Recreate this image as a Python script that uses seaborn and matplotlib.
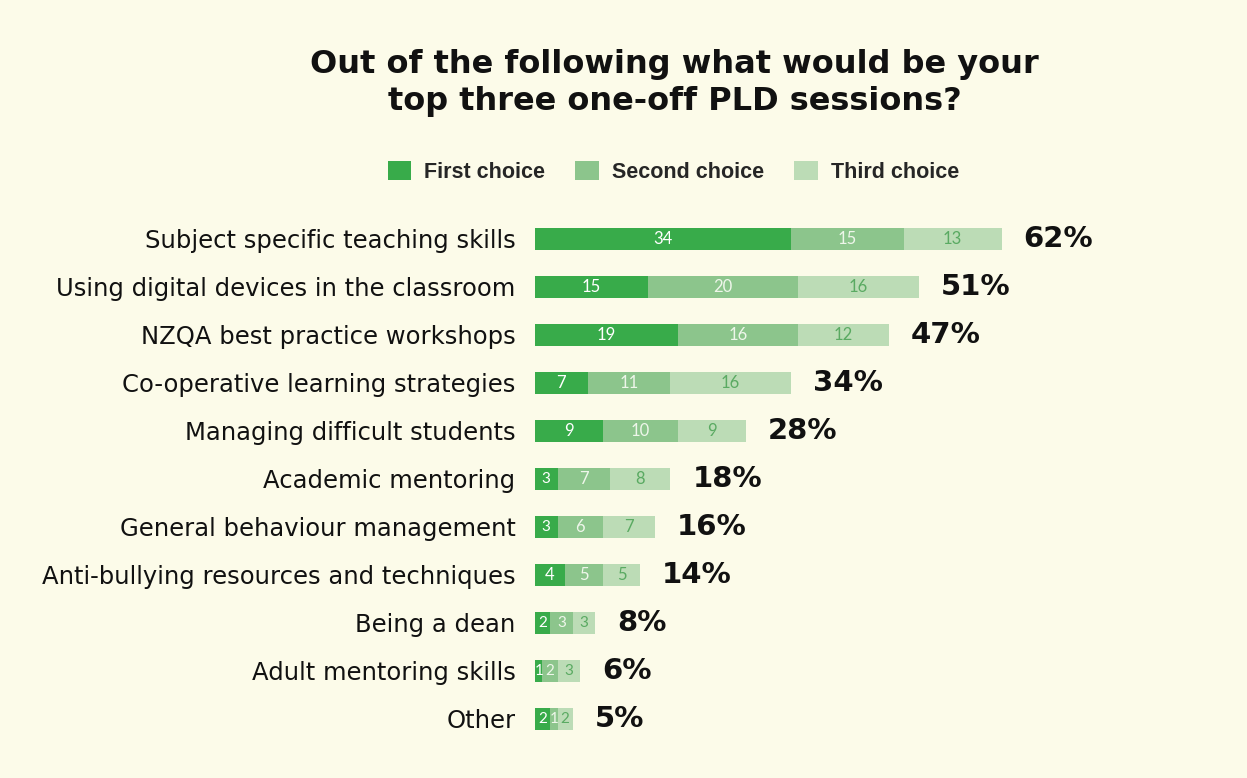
import matplotlib
matplotlib.use("Agg")
import matplotlib.pyplot as plt
from matplotlib import font_manager
from matplotlib.font_manager import FontProperties
from matplotlib.patches import Patch
import seaborn as sns
import pandas as pd
import numpy as np

categories = [
    "Subject specific teaching skills",
    "Using digital devices in the classroom",
    "NZQA best practice workshops",
    "Co-operative learning strategies",
    "Managing difficult students",
    "Academic mentoring",
    "General behaviour management",
    "Anti-bullying resources and techniques",
    "Being a dean",
    "Adult mentoring skills",
    "Other",
]
first_choice = [34, 15, 19, 7, 9, 3, 3, 4, 2, 1, 2]
second_choice = [15, 20, 16, 11, 10, 7, 6, 5, 3, 2, 1]
third_choice = [13, 16, 12, 16, 9, 8, 7, 5, 3, 3, 2]
series_names = ["First choice", "Second choice", "Third choice"]

BG = "#fcfbe9"
COLORS = ["#38ab4a", "#8cc58c", "#bcdcb6"]
NUM_COLORS = ["#ffffff", "#eef6ea", "#5aaa62"]

sns.set_theme(style="white")
plt.rcParams["font.family"] = ["DejaVu Sans"]


def bold_font(family, size):
    """Regular-width bold face of the given family (skip Narrow/Condensed files)."""
    for f in font_manager.fontManager.ttflist:
        if f.name == family and f.weight in (700, "bold") and f.style == "normal" \
                and "Narrow" not in f.fname and "Condensed" not in f.fname:
            return FontProperties(fname=f.fname, size=size)
    return FontProperties(family="DejaVu Sans", weight="bold", size=size)


df = pd.DataFrame({
    "category": categories,
    "first": first_choice,
    "second": second_choice,
    "third": third_choice,
})
df["cum1"] = df["first"]
df["cum2"] = df["first"] + df["second"]
df["total"] = df["cum2"] + df["third"]

fig = plt.figure(figsize=(12.47, 7.78), dpi=100, facecolor=BG)
ax = fig.add_axes([0.429, 0.045, 0.571, 0.679], facecolor=BG)

# stacked bars: draw cumulative lengths from longest to shortest
for col, color in zip(["total", "cum2", "cum1"], COLORS[::-1]):
    sns.barplot(data=df, x=col, y="category", order=categories, color=color,
                width=0.46, orient="h", ax=ax, saturation=1, linewidth=0)

# segment counts
starts = [np.zeros(len(df)), df["cum1"].values, df["cum2"].values]
vals = [df["first"].values, df["second"].values, df["third"].values]
for s, v, c in zip(starts, vals, NUM_COLORS):
    for i, (s0, v0) in enumerate(zip(s, v)):
        ax.text(s0 + v0 / 2, i, str(v0), ha="center", va="center",
                fontsize=12 if v0 >= 4 else 11, color=c,
                family=["Lato", "DejaVu Sans"])

# totals
for i, t in enumerate(df["total"].values):
    ax.text(t + 2.9, i, f"{t}%", ha="left", va="center", fontsize=21,
            fontweight="bold", color="#111111")

ax.set_xlim(0, 94.6)
ax.set_ylim(len(categories) - 0.5, -0.5)
ax.set_xlabel("")
ax.set_ylabel("")
ax.set_xticks([])
ax.tick_params(axis="y", length=0, pad=14, labelsize=17.5, labelcolor="#111111")
for sp in ax.spines.values():
    sp.set_visible(False)

fig.text(0.541, 0.893, "Out of the following what would be your\ntop three one-off PLD sessions?",
         ha="center", va="center", fontproperties=bold_font("DejaVu Sans", 23),
         linespacing=1.25, color="#111111")

handles = [Patch(facecolor=c, edgecolor="none") for c in COLORS]
leg = fig.legend(handles, series_names, loc="center", bbox_to_anchor=(0.54, 0.779),
                 ncol=3, frameon=False, handlelength=1.1, handleheight=0.95,
                 columnspacing=1.4, handletextpad=0.6,
                 prop=bold_font("Liberation Sans", 15.5))

fig.savefig("out.png", dpi=100, facecolor=BG)
